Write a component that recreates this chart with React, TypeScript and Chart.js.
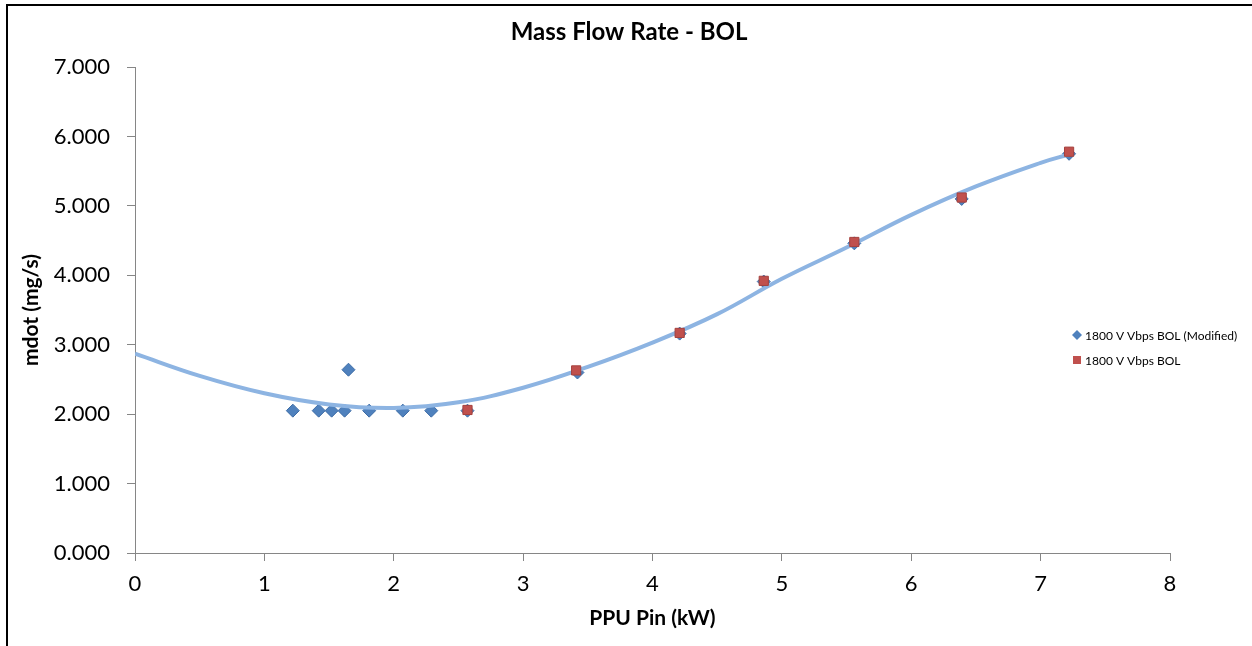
import React, { useEffect, useRef } from "react";
import { Chart, registerables } from "chart.js";

Chart.register(...registerables);

const modifiedX = [1.22, 1.42, 1.52, 1.62, 1.65, 1.81, 2.07, 2.29, 2.57, 3.42, 4.21, 4.86, 5.56, 6.39, 7.22];
const modifiedY = [2.05, 2.05, 2.05, 2.05, 2.64, 2.05, 2.05, 2.05, 2.05, 2.60, 3.16, 3.91, 4.46, 5.10, 5.75];
const bolX = [2.57, 3.41, 4.21, 4.86, 5.56, 6.39, 7.22];
const bolY = [2.06, 2.63, 3.17, 3.92, 4.48, 5.12, 5.78];
const trendX = [0, 0.5, 1.0, 1.5, 2.0, 2.5, 3.0, 3.5, 4.0, 4.5, 5.0, 5.5, 6.0, 6.5, 7.0, 7.22];
const trendY = [2.87, 2.55, 2.30, 2.14, 2.09, 2.17, 2.38, 2.68, 3.03, 3.44, 3.95, 4.40, 4.87, 5.28, 5.62, 5.74];

const seriesNames = ["1800 V Vbps BOL (Modified)", "1800 V Vbps BOL"];
const chartTitle = "Mass Flow Rate - BOL";
const xTitle = "PPU Pin (kW)";
const yTitle = "mdot (mg/s)";

const FONT = "Lato, 'Open Sans', sans-serif";
const BLUE = "#4F81BD";
const RED = "#C0504D";

const titlePlugin = {
  id: "customTitle",
  afterDraw(chart: any) {
    const ctx = chart.ctx;
    ctx.save();
    ctx.font = `bold 24px ${FONT}`;
    ctx.fillStyle = "#000";
    ctx.textAlign = "center";
    ctx.textBaseline = "middle";
    ctx.fillText(chartTitle, chart.width / 2 + 3, chart.chartArea.top - 35);
    ctx.restore();
  },
};

const legendPlugin = {
  id: "customLegend",
  afterDraw(chart: any) {
    const ctx = chart.ctx;
    const x0 = chart.chartArea.right - 93;
    const yc = chart.chartArea.top + 268;
    ctx.save();
    ctx.font = `12px ${FONT}`;
    ctx.textBaseline = "middle";
    ctx.textAlign = "left";
    ctx.fillStyle = BLUE;
    ctx.beginPath();
    ctx.moveTo(x0, yc - 5);
    ctx.lineTo(x0 + 5, yc);
    ctx.lineTo(x0, yc + 5);
    ctx.lineTo(x0 - 5, yc);
    ctx.closePath();
    ctx.fill();
    ctx.fillStyle = "#000";
    ctx.fillText(seriesNames[0], x0 + 8, yc + 1);
    ctx.fillStyle = RED;
    ctx.fillRect(x0 - 4, yc + 25 - 4, 8, 8);
    ctx.fillStyle = "#000";
    ctx.fillText(seriesNames[1], x0 + 8, yc + 26);
    ctx.restore();
  },
};

export default function App() {
  const ref = useRef<HTMLCanvasElement | null>(null);
  useEffect(() => {
    if (!ref.current) return;
    const chart = new Chart(ref.current, {
      type: "scatter",
      data: {
        datasets: [
          {
            label: seriesNames[1],
            data: bolX.map((x, i) => ({ x, y: bolY[i] })),
            pointStyle: "rect",
            pointRadius: 6.5,
            backgroundColor: RED,
            borderColor: "#A5403D",
            borderWidth: 1,
            order: 0,
          },
          {
            label: "trend",
            type: "line",
            data: trendX.map((x, i) => ({ x, y: trendY[i] })),
            borderColor: "#8DB4E2",
            borderWidth: 4,
            pointRadius: 0,
            tension: 0.4,
            fill: false,
            order: 1,
          } as any,
          {
            label: seriesNames[0],
            data: modifiedX.map((x, i) => ({ x, y: modifiedY[i] })),
            pointStyle: "rectRot",
            pointRadius: 6.5,
            backgroundColor: BLUE,
            borderColor: "#3D6CA6",
            borderWidth: 1,
            order: 2,
          },
        ],
      },
      options: {
        responsive: false,
        animation: false,
        layout: { padding: { left: 0, right: 82, top: 67, bottom: 0 } },
        plugins: {
          legend: { display: false },
          tooltip: { enabled: false },
          title: { display: false },
        },
        scales: {
          x: {
            type: "linear",
            min: 0,
            max: 8,
            ticks: {
              stepSize: 1,
              color: "#000",
              font: { family: FONT, size: 22 },
              padding: 10,
            },
            grid: { drawOnChartArea: false, drawTicks: true, tickLength: 8, color: "#868686" },
            border: { display: true, color: "#868686" },
            title: {
              display: true,
              text: xTitle,
              color: "#000",
              font: { family: FONT, size: 21, weight: "bold" },
              padding: { top: 0, bottom: 15 },
            },
            afterFit(scale: any) {
              scale.height = 93;
            },
          },
          y: {
            type: "linear",
            min: 0,
            max: 7,
            ticks: {
              stepSize: 1,
              color: "#000",
              font: { family: FONT, size: 22 },
              padding: 17,
              callback: (v: any) => Number(v).toFixed(3),
            },
            grid: { drawOnChartArea: false, drawTicks: true, tickLength: 8, color: "#868686" },
            border: { display: true, color: "#868686" },
            title: {
              display: true,
              text: yTitle,
              color: "#000",
              font: { family: FONT, size: 21, weight: "bold" },
              padding: { top: 19, bottom: 0 },
            },
            afterFit(scale: any) {
              scale.width = 135;
            },
          },
        },
      },
      plugins: [titlePlugin, legendPlugin],
    });
    return () => chart.destroy();
  }, []);

  return (
    <div>
      <div
        style={{
          position: "fixed",
          left: 6,
          top: 4,
          width: 2000,
          height: 2000,
          borderTop: "2px solid #000",
          borderLeft: "2px solid #000",
          background: "#fff",
        }}
      />
      <canvas
        ref={ref}
        width={1252}
        height={646}
        style={{ position: "fixed", left: 0, top: 0, width: 1252, height: 646 }}
      />
    </div>
  );
}
